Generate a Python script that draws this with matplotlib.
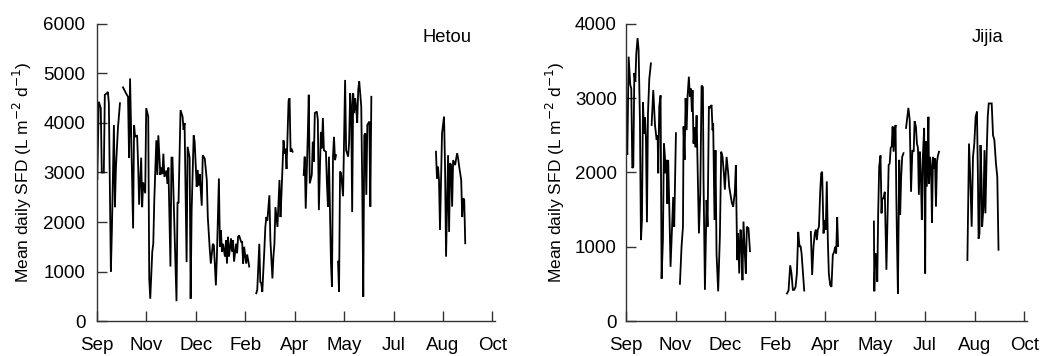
import numpy as np
import matplotlib
matplotlib.use("Agg")
import matplotlib.pyplot as plt

nan = np.nan

month_labels = ["Sep", "Nov", "Dec", "Feb", "Apr", "May", "Jul", "Aug", "Oct"]
month_days = [0, 49, 98, 147, 196, 245, 294, 343, 392]

# ---------------- Hetou (day index, mean daily SFD); NaN marks a data gap
hetou_days = [
    0, 0.5, 2, 4, 5, 7, 8, 10, 11, 12, 14, 15, 17, 18, 19, 21, 23,
    24.5,
    26, 29, 31, 32, 33, 36, 37, 38, 40, 41, 42, 44, 45, 46, 48, 49, 51, 52, 53,
    55, 56, 57, 59, 60, 61, 63, 64, 65, 66, 67, 69, 70, 71, 73, 74, 75, 79, 80,
    81, 83, 85, 86, 87, 89, 90, 92, 93, 94, 96, 97, 99, 100, 101, 102, 104, 105,
    107, 109, 110, 112, 113, 115, 116, 118, 119, 121, 122, 123, 124, 125, 127,
    128, 129, 130, 131, 133, 134, 135, 136, 138, 139, 140, 141, 143, 144, 145,
    146, 148, 149, 150, 151,
    154,
    158, 159, 161, 162, 163, 164, 166, 167, 168, 169, 171, 172, 174, 175, 176,
    177, 179, 180, 181, 182, 183, 185, 186, 187, 188, 190, 191, 192, 193, 194,
    200,
    205, 206, 207, 209, 210, 211, 213, 214, 215, 216, 218, 219, 220, 222, 223,
    224, 225, 227, 228, 229, 230, 232, 233, 234, 235, 236, 237,
    238,
    239, 240, 241, 242, 244, 245, 246, 247, 249, 250, 251, 252, 253, 254, 255,
    256, 257, 258, 259, 260, 262, 263, 264, 265, 266, 267, 268, 270, 271, 272,
    300,
    336, 337, 338, 339, 340, 342, 344, 345, 346, 348, 349, 350, 351, 352, 353,
    355, 356, 357, 358, 359, 361, 362, 363, 364, 365,
]
hetou_sfd = [
    3400, 2850, 4430, 4300, 3000, 3000, 4570, 4600, 4630, 4400, 1000, 1830, 3960,
    2300, 3100, 3900, 4400,
    nan,
    4720, 4600, 4530, 3300, 4900, 1870, 3960, 3720, 3750, 3150, 2350, 3300, 2300,
    2800, 2580, 4300, 4130, 860, 450, 1400, 1560, 2440, 3650, 2950, 3750, 2950,
    3100, 2970, 3380, 2910, 3040, 2770, 3100, 1100, 3300, 3300, 400, 2400, 2380,
    4260, 4130, 3860, 4000, 1190, 3520, 3300, 450, 2230, 3750, 3620, 2710, 3050,
    2740, 2970, 2330, 3350, 3280, 2850, 2100, 1430, 1160, 1560, 1530, 720, 1300,
    2880, 1500, 1830, 1400, 1560, 1300, 1630, 1160, 1700, 1300, 1670, 1400, 1630,
    1200, 1560, 1370, 1700, 1730, 1600, 1600, 1160, 1500, 1160, 1340, 1230, 1100,
    nan,
    560, 630, 1560, 790, 760, 590, 1430, 1900, 2100, 2030, 2540, 1630, 860, 1300,
    1560, 2300, 1900, 2370, 2850, 2100, 2570, 3650, 3380, 3480, 3070, 4450, 4500,
    3420, 3480, 3420,
    nan,
    2950, 3320, 2270, 3720, 4570, 2780, 2950, 3620, 3220, 4200, 4230, 4060, 2240,
    3820, 3490, 4100, 3450, 3420, 2780, 2310, 3320, 1170, 690, 3320, 3720, 3250,
    3350,
    nan,
    1200, 590, 3020, 2990, 2520, 3650, 4870, 3450, 3320, 3620, 4600, 4330, 2200,
    4600, 4200, 4500, 4300, 4000, 4670, 4840, 4330, 2700, 490, 3750, 3790, 2550,
    3960, 4030, 2310, 4530,
    nan,
    3420, 2880, 3120, 2850, 1840, 3790, 4130, 3120, 1300, 3350, 1800, 3190, 3150,
    2310, 3250, 3150, 3280, 3390, 3280, 3120, 2850, 2100, 2480, 2450, 1570,
]

# ---------------- Jijia
jijia_days = [
    0.6, 1.6, 2.9, 4.5, 5.5, 6.5, 7.5, 8.5, 9.5, 10.4, 11.7, 12.7, 14, 15, 16,
    17, 18, 19, 19.9, 20.9, 21.9, 23.2, 24.8,
    25.1,
    25.5, 27.1, 28.8, 30.4, 31.4, 32, 33, 34.3, 35.3, 36.6, 37.6, 38.6, 39.2,
    40.2, 40.9, 41.8, 42.8, 44.1, 45.1, 46.7, 47.7, 49.4,
    51,
    53.3, 54.9, 56.3, 56.9, 57.9, 58.9, 59.9, 60.8, 62.1, 63.1, 64.1, 65.1, 65.7,
    66.7, 67.7, 68.7, 69.7, 72, 73.3, 74.6, 75.9, 76.5, 77.9, 79.5, 80.5, 81.8,
    83.1, 84.4, 85.4, 86, 87.3, 88.3, 89.3, 90.9, 92.6, 93.9, 95.2, 96.5, 97.5,
    99.2, 100.8, 101.7, 103.1, 104.4, 105.7, 107.3, 108.3, 109.6, 110.6, 111.6,
    112.9, 113.9, 114.8, 115.8, 117.1, 118.1, 119.1, 120.7, 122.2,
    140,
    158.5, 160.1, 161.7, 163.0, 164.3, 165.7, 167.0, 168.3, 169.6, 170.9, 171.9,
    172.9, 174.2, 175.5,
    178,
    182.0, 183.3, 184.6, 185.9, 186.9, 187.9, 188.9, 190.0, 191.2, 192.2, 193.1,
    194.5, 195.4, 196.7, 197.7, 198.7, 199.7, 201.0, 202.3, 203.6, 204.9, 205.9,
    206.9, 207.9, 208.8,
    230,
    244.0, 244.4, 245.3, 246.6, 247.3, 248.2, 249.2, 250.5, 251.5, 252.1, 253.4,
    254.7, 256.3, 258.5, 259.5, 260.5, 261.5, 262.4, 263.4, 264.4, 265.3, 266.0,
    266.6, 267.6, 268.9, 269.8, 270.8, 271.8, 273.1,
    274.5,
    275.6, 276.9, 277.9, 279.2, 280.5, 281.8, 283.1, 284.0, 285.3, 286.3, 287.3,
    288.2, 289.2, 290.2, 291.1, 292.1, 293.4, 294.4, 295.0, 296.0, 297.0, 297.6,
    298.2, 299.2, 300.2, 301.1, 302.1, 303.1, 304.0, 305.0, 306.0, 307.0, 308.0,
    320,
    335.9, 337.5, 338.8, 340.1, 341.4, 342.7, 344.0, 345.3, 346.2, 346.9, 347.8,
    348.8, 349.8, 350.4, 351.7, 352.7, 353.6, 354.9, 355.9, 356.9, 358.5, 359.8,
    361.1, 362.4, 364.0, 365.3, 366.5,
]
jijia_sfd = [
    2440, 2240, 3560, 3180, 3130, 2060, 2080, 3340, 3220, 3600, 3810, 3650, 2710,
    1090, 1360, 2950, 2520, 2740, 2470, 1330, 2790, 3260, 3470,
    nan,
    2640, 3110, 2640, 2440, 2500, 1990, 2890, 3040, 570, 1090, 2390, 2210, 1990,
    2170, 1580, 2170, 1580, 730, 1090, 1670, 1270, 2530,
    nan,
    500, 1000, 1270, 2620, 2170, 3000, 2570, 3020, 3290, 3020, 3130, 2820, 3110,
    2390, 2610, 2340, 2770, 1180, 1710, 3170, 3150, 1920, 420, 1630, 1270, 2890,
    2870, 2910, 2570, 2660, 1360, 2300, 910, 400, 1140, 2280, 2210, 1990, 1770,
    2210, 1990, 1810, 1700, 1590, 1540, 1740, 2100, 820, 1180, 640, 1230, 1050,
    550, 1340, 910, 640, 1270, 1250, 940,
    nan,
    370, 410, 750, 640, 420, 420, 460, 640, 1200, 1000, 1010, 910, 660, 410,
    nan,
    1200, 620, 1000, 1180, 1230, 1090, 1230, 1270, 1740, 1990, 2010, 1180, 1360,
    1230, 1880, 1090, 640, 485, 460, 890, 930, 1000, 910, 1400, 1010,
    nan,
    1340, 400, 910, 890, 530, 1450, 2080, 2230, 1450, 1650, 1650, 1740, 690, 2100,
    2120, 2330, 2350, 2620, 2280, 2550, 2640, 1720, 1160, 370, 2170, 1430, 1940,
    2210, 2260,
    nan,
    2600, 2750, 2870, 2710, 1740, 2300, 2280, 2690, 2620, 2390, 2330, 1700, 2280,
    1940, 1360, 2210, 2600, 640, 2420, 1810, 2300, 2750, 1850, 2210, 2080, 1320,
    2210, 2050, 2190, 1540, 2150, 2230, 2280,
    nan,
    820, 2390, 1900, 1270, 2210, 2390, 2750, 2820, 1990, 1110, 1180, 2370, 1900,
    1270, 1540, 2300, 1450, 2280, 2750, 2930, 2930, 2930, 2500, 2440, 2120, 1940,
    960,
]

sites = ["Hetou", "Jijia"]
y_max = [6000, 4000]
y_ticks = [[0, 1000, 2000, 3000, 4000, 5000, 6000], [0, 1000, 2000, 3000, 4000]]

plt.rcParams["font.family"] = ["Liberation Sans", "DejaVu Sans"]

fig = plt.figure(figsize=(10.47, 3.56), dpi=100)
ax1 = fig.add_axes([0.0924, 0.0983, 0.3804, 0.8343])
ax2 = fig.add_axes([0.5976, 0.0983, 0.3833, 0.8343])

fs_tick = 13.5
fs_label = 12.5
fs_site = 13.2
for ax, days, vals, name, ymax, yt, ypad, lpad in [
    (ax1, hetou_days, hetou_sfd, sites[0], y_max[0], y_ticks[0], 8.2, 6.5),
    (ax2, jijia_days, jijia_sfd, sites[1], y_max[1], y_ticks[1], 6.3, 6.0),
]:
    ax.plot(days, vals, color="black", lw=1.3, solid_joinstyle="miter")
    ax.set_xlim(0, 394.5)
    ax.set_ylim(0, ymax)
    ax.set_xticks(month_days)
    ax.set_xticklabels(month_labels)
    ax.set_yticks(yt)
    for s in ["top", "right"]:
        ax.spines[s].set_visible(False)
    for s in ["left", "bottom"]:
        ax.spines[s].set_linewidth(1.0)
        ax.spines[s].set_color("#333333")
    ax.tick_params(axis="x", direction="in", length=7, width=1.0, color="#333333",
                   pad=11.5, labelsize=fs_tick)
    ax.tick_params(axis="y", direction="in", length=7, width=1.0, color="#333333",
                   pad=ypad, labelsize=fs_tick)
    ax.set_ylabel("Mean daily SFD (L m$^{-2}$ d$^{-1}$)", fontsize=fs_label,
                  labelpad=lpad)
    ax.text(0.94, 0.955, name, transform=ax.transAxes, ha="right", va="center",
            fontsize=fs_site)

fig.savefig("out.png", dpi=100)
